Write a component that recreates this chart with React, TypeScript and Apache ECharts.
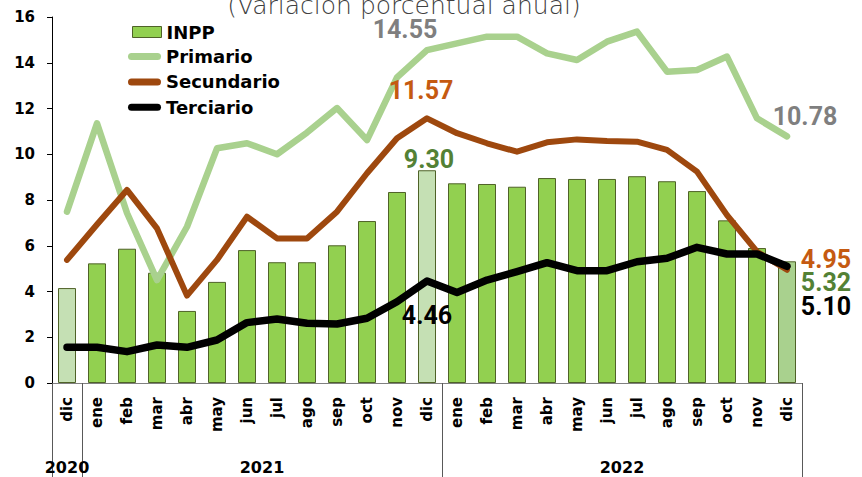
import React, { useEffect, useRef } from 'react';
import * as echarts from 'echarts';

const months = ['dic', 'ene', 'feb', 'mar', 'abr', 'may', 'jun', 'jul', 'ago', 'sep', 'oct', 'nov', 'dic', 'ene', 'feb', 'mar', 'abr', 'may', 'jun', 'jul', 'ago', 'sep', 'oct', 'nov', 'dic'];
const years = ['2020', '2021', '2022'];
const yearStart = [0, 1, 13];
const yearLength = [1, 12, 12];

const inpp = [4.15, 5.23, 5.87, 4.82, 3.15, 4.42, 5.81, 5.28, 5.28, 6.02, 7.08, 8.35, 9.30, 8.73, 8.70, 8.58, 8.96, 8.92, 8.92, 9.04, 8.82, 8.39, 7.11, 5.90, 5.32];
const primario = [7.49, 11.35, 7.43, 4.50, 6.83, 10.26, 10.48, 10.00, 10.95, 12.02, 10.62, 13.36, 14.55, 14.85, 15.14, 15.14, 14.41, 14.12, 14.92, 15.36, 13.61, 13.68, 14.27, 11.57, 10.78];
const secundario = [5.38, 6.93, 8.44, 6.76, 3.82, 5.38, 7.27, 6.32, 6.32, 7.49, 9.17, 10.70, 11.57, 10.92, 10.48, 10.11, 10.52, 10.65, 10.58, 10.55, 10.19, 9.24, 7.34, 5.74, 4.95];
const terciario = [1.56, 1.56, 1.37, 1.66, 1.56, 1.88, 2.64, 2.80, 2.61, 2.58, 2.83, 3.55, 4.46, 3.96, 4.50, 4.87, 5.26, 4.91, 4.91, 5.30, 5.45, 5.93, 5.64, 5.64, 5.10];

const seriesNames = ['INPP', 'Primario', 'Secundario', 'Terciario'];
const yTicks = { min: 0, max: 16, interval: 2 };

const labelFont = { fontFamily: 'Roboto', fontWeight: 'bold' as const, fontSize: 25 };

export default function App() {
  const ref = useRef<HTMLDivElement>(null);

  useEffect(() => {
    const chart = echarts.init(ref.current!, null, { renderer: 'svg' });
    const last = months.length - 1;
    const mid = 12;

    const lineData = (vals: number[], color: string, offMid: number[], offLast: number[]) =>
      vals.map((v, i) => {
        if (i === mid || i === last) {
          return {
            value: v,
            label: {
              show: true,
              position: 'inside',
              offset: i === mid ? offMid : offLast,
              color,
              ...labelFont,
              formatter: (p: any) => Number(p.value).toFixed(2),
            },
          };
        }
        return v;
      });

    const barColor = (i: number) => (i === 0 || i === mid ? '#C5E0B4' : i === last ? '#A9D18E' : '#92D050');

    const barData = inpp.map((v, i) => {
      const item: any = { value: v, itemStyle: { color: barColor(i) } };
      if (i === mid || i === last) {
        item.label = {
          show: true,
          position: 'top',
          distance: 0,
          offset: i === mid ? [2, 2] : [39, 34],
          color: '#538135',
          ...labelFont,
          formatter: (p: any) => Number(p.value).toFixed(2),
        };
      }
      return item;
    });

    const yearLabelIndex = yearStart.map((s, k) => s + Math.floor((yearLength[k] - 1) / 2));
    const yearShifted = yearLength.map((l) => l % 2 === 0);

    const option: any = {
      animation: false,
      grid: { left: 52, right: 60, top: 17, bottom: 94, containLabel: false },
      graphic: [
        {
          type: 'text',
          x: 404,
          y: 5,
          style: {
            text: '(Variación porcentual anual)',
            fontFamily: 'DejaVu Sans',
            fontWeight: 200,
            fontSize: 25,
            fill: '#404040',
            align: 'center',
            verticalAlign: 'middle',
          },
        },
      ],
      legend: [
        {
          data: [{ name: seriesNames[0], icon: 'rect', itemStyle: { color: '#92D050', borderColor: '#4F6228', borderWidth: 1 } }],
          left: 132,
          top: 22,
          padding: 0,
          itemWidth: 29,
          itemHeight: 11,
          selectedMode: false,
          textStyle: { fontFamily: 'DejaVu Sans', fontWeight: 'bold', fontSize: 18, color: '#000', lineHeight: 20 },
        },
        {
          data: seriesNames.slice(1).map((n) => ({
            name: n,
            icon: 'path://M3.5,0 L29.5,0 A3.5,3.5 0 0 1 29.5,7 L3.5,7 A3.5,3.5 0 0 1 3.5,0 Z',
          })),
          orient: 'vertical',
          left: 128,
          top: 46.5,
          padding: 0,
          itemGap: 5.4,
          itemWidth: 33,
          itemHeight: 7,
          selectedMode: false,
          textStyle: { fontFamily: 'DejaVu Sans', fontWeight: 'bold', fontSize: 18, color: '#000', lineHeight: 20 },
        },
      ],
      xAxis: [
        {
          type: 'category',
          data: months,
          boundaryGap: true,
          axisLine: { show: true, lineStyle: { color: '#808080', width: 1 } },
          axisTick: { show: false },
          axisLabel: {
            interval: 0,
            rotate: 90,
            margin: 14,
            fontFamily: 'DejaVu Sans',
            fontWeight: 'bold',
            fontSize: 15,
            color: '#000',
          },
          splitLine: { show: false },
        },
        {
          type: 'category',
          data: months,
          position: 'bottom',
          boundaryGap: true,
          axisLine: { show: false },
          axisTick: {
            show: true,
            length: 100,
            interval: (i: number) => yearStart.includes(i),
            lineStyle: { color: '#595959', width: 1 },
          },
          axisLabel: {
            interval: (i: number) => yearLabelIndex.includes(i),
            margin: 76,
            formatter: (_v: string, i: number) => {
              const k = yearLabelIndex.indexOf(i);
              if (k < 0) return '';
              return yearShifted[k] ? `{s|${years[k]}}` : `{y|${years[k]}}`;
            },
            rich: {
              y: { fontFamily: 'DejaVu Sans', fontWeight: 'bold', fontSize: 16, color: '#000' },
              s: { fontFamily: 'DejaVu Sans', fontWeight: 'bold', fontSize: 16, color: '#000', padding: [0, 0, 0, 30] },
            },
          },
          splitLine: { show: false },
        },
      ],
      yAxis: {
        type: 'value',
        min: yTicks.min,
        max: yTicks.max,
        interval: yTicks.interval,
        axisLine: { show: true, lineStyle: { color: '#000', width: 1 } },
        axisTick: { show: true, inside: false, length: 5, lineStyle: { color: '#000' } },
        axisLabel: { margin: 17, fontFamily: 'DejaVu Sans', fontWeight: 'bold', fontSize: 15, color: '#000' },
        splitLine: { show: false },
      },
      series: [
        {
          name: seriesNames[0],
          type: 'bar',
          data: barData,
          barWidth: '60%',
          itemStyle: { color: '#92D050', borderColor: '#4F6228', borderWidth: 1 },
          silent: true,
          z: 1,
        },
        {
          name: seriesNames[1],
          type: 'line',
          data: lineData(primario, '#7F7F7F', [-22, -21], [18, -20]),
          symbol: 'circle',
          symbolSize: 1,
          showSymbol: true,
          itemStyle: { color: '#A9D18E' },
          lineStyle: { color: '#A9D18E', width: 6.5, join: 'round', cap: 'round' },
          silent: true,
          z: 2,
        },
        {
          name: seriesNames[2],
          type: 'line',
          data: lineData(secundario, '#C55A11', [-6, -28], [39, -10]),
          symbol: 'circle',
          symbolSize: 1,
          showSymbol: true,
          itemStyle: { color: '#9E480E' },
          lineStyle: { color: '#9E480E', width: 6, join: 'round', cap: 'round' },
          silent: true,
          z: 3,
        },
        {
          name: seriesNames[3],
          type: 'line',
          data: lineData(terciario, '#000000', [0, 35], [39, 40]),
          symbol: 'circle',
          symbolSize: 1,
          showSymbol: true,
          itemStyle: { color: '#000000' },
          lineStyle: { color: '#000000', width: 7.5, join: 'round', cap: 'round' },
          silent: true,
          z: 4,
        },
      ],
    };

    chart.setOption(option);
    return () => chart.dispose();
  }, []);

  return <div ref={ref} style={{ position: 'absolute', left: 0, top: 0, width: 862, height: 477 }} />;
}
